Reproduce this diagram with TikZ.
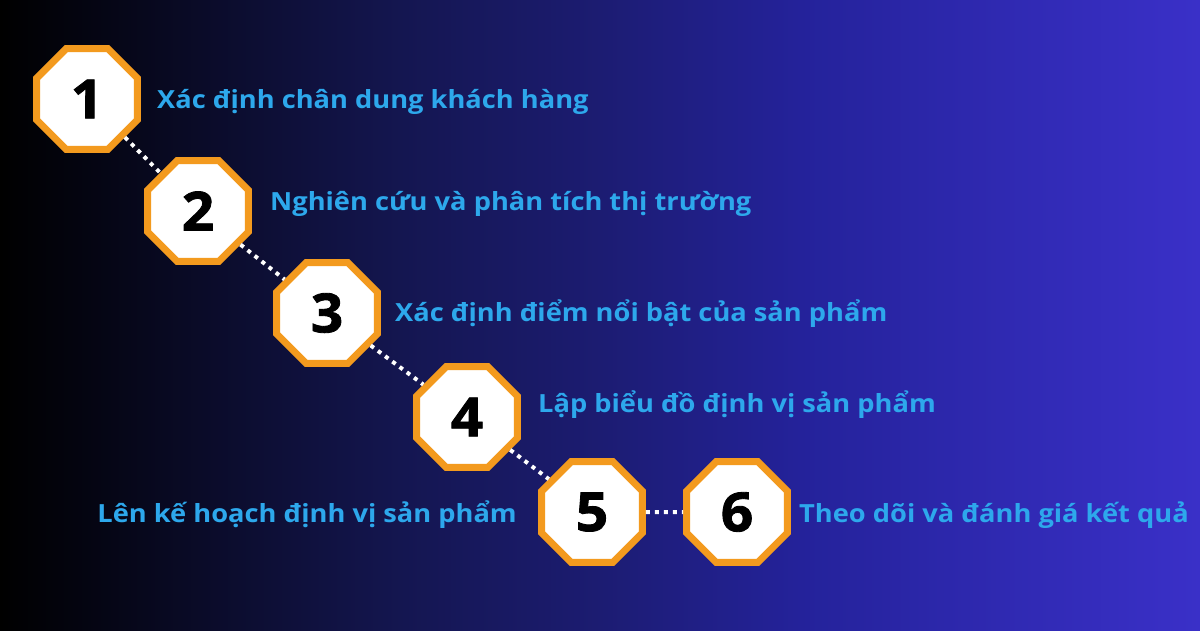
\documentclass[tikz,border=0pt]{standalone}
\usepackage{fontspec}
\setmainfont{Open Sans}
\newfontfamily\labfont[FakeStretch=1.09]{Open Sans}
\newfontfamily\numfont[FakeBold=1.6,FakeStretch=1.05]{Open Sans}
\usetikzlibrary{shapes.geometric}
\definecolor{bgA}{HTML}{000000}
\definecolor{bgB}{HTML}{141650}
\definecolor{bgC}{HTML}{1C1C72}
\definecolor{bgD}{HTML}{24229A}
\definecolor{bgE}{HTML}{3A30C8}
\definecolor{ring}{HTML}{F39A1E}
\definecolor{lbl}{HTML}{2DA8EC}
\pgfdeclarehorizontalshading{bgshade}{100bp}{color(0bp)=(bgA); color(25bp)=(bgA); color(41.67bp)=(bgB); color(50bp)=(bgC); color(58.33bp)=(bgD); color(75bp)=(bgE); color(100bp)=(bgE)}
\tikzset{
  octa/.style={regular polygon, regular polygon sides=8, minimum size=109pt, inner sep=0pt,
    draw=ring, line width=7pt, fill=white, font=\numfont\fontsize{54}{54}\selectfont\bfseries, text=black},
  lab/.style={anchor=base west, inner sep=0pt, text=lbl, font=\labfont\fontsize{25}{25}\selectfont\bfseries},
  labr/.style={lab, anchor=base east},
  dots/.style={draw=white, line width=4pt, dash pattern=on 4pt off 5pt}
}
\begin{document}
\begin{tikzpicture}[x=1pt,y=-1pt]
\useasboundingbox (0,0) rectangle (1200,630);
\shade[shading=bgshade] (0,0) rectangle (1200,630);
\node[octa] (n1) at (87,99) {1};
\node[octa] (n2) at (198,211) {2};
\node[octa] (n3) at (327,313) {3};
\node[octa] (n4) at (467,417) {4};
\node[octa] (n5) at (592,512) {5};
\node[octa] (n6) at (737,512) {6};
\draw[dots] (n1) -- (n2);
\draw[dots] (n2) -- (n3);
\draw[dots] (n3) -- (n4);
\draw[dots] (n4) -- (n5);
\draw[dots] (n5) -- (n6);
\node[lab] (t1) at (157,108) {Xác định chân dung khách hàng};
\node[lab] (t2) at (270,210) {Nghiên cứu và phân tích thị trường};
\node[lab] (t3) at (395,321) {Xác định điểm nổi bật của sản phẩm};
\node[lab] (t4) at (538,412) {Lập biểu đồ định vị sản phẩm};
\node[labr] (t5) at (517,522) {Lên kế hoạch định vị sản phẩm};
\node[lab] (t6) at (799,522) {Theo dõi và đánh giá kết quả};
\end{tikzpicture}
\end{document}
